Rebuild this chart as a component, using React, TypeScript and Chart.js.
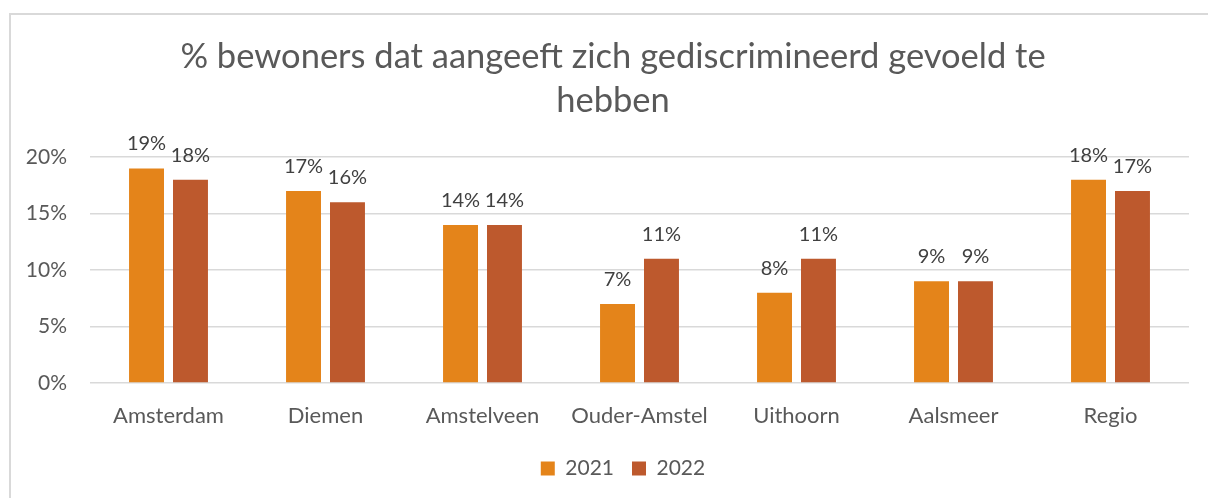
import React, { useEffect, useRef } from "react";
import { Chart, registerables } from "chart.js";

Chart.register(...registerables);

const categories = ["Amsterdam", "Diemen", "Amstelveen", "Ouder-Amstel", "Uithoorn", "Aalsmeer", "Regio"];
const series2021 = [19, 17, 14, 7, 8, 9, 18];
const series2022 = [18, 16, 14, 11, 11, 9, 17];
const seriesNames = ["2021", "2022"];
const titleLines = ["% bewoners dat aangeeft zich gediscrimineerd gevoeld te", "hebben"];
const yTicks = [0, 5, 10, 15, 20];

const FONT = "Lato, 'Open Sans', sans-serif";
const TEXT = "#595959";

const dataLabelPlugin = {
  id: "dataLabels",
  afterDatasetsDraw(chart: any) {
    const ctx = chart.ctx;
    ctx.save();
    ctx.font = `20px ${FONT}`;
    ctx.fillStyle = "#404040";
    ctx.textAlign = "center";
    ctx.textBaseline = "alphabetic";
    chart.data.datasets.forEach((ds: any, di: number) => {
      const meta = chart.getDatasetMeta(di);
      meta.data.forEach((el: any, i: number) => {
        ctx.fillText(ds.data[i] + "%", el.x, el.y - 18);
      });
    });
    ctx.restore();
  },
};

const boxShiftPlugin = {
  id: "boxShift",
  afterLayout(chart: any) {
    if (chart.legend) {
      chart.legend.left += 23;
      chart.legend.right += 23;
    }
    if (chart.titleBlock) {
      chart.titleBlock.left += 13;
      chart.titleBlock.right += 13;
    }
  },
};

export default function App() {
  const ref = useRef<HTMLCanvasElement>(null);
  useEffect(() => {
    if (!ref.current) return;
    const chart = new Chart(ref.current, {
      type: "bar",
      data: {
        labels: categories,
        datasets: [
          {
            label: seriesNames[0],
            data: series2021,
            backgroundColor: "#E4841A",
            categoryPercentage: 0.56,
            barPercentage: 0.795,
          },
          {
            label: seriesNames[1],
            data: series2022,
            backgroundColor: "#BD592D",
            categoryPercentage: 0.56,
            barPercentage: 0.795,
          },
        ],
      },
      options: {
        responsive: false,
        animation: false,
        devicePixelRatio: 1,
        layout: { padding: { left: 0, right: 19, top: 0, bottom: 9 } },
        plugins: {
          title: {
            display: true,
            text: titleLines,
            color: TEXT,
            font: { family: FONT, size: 34.5, weight: "normal", lineHeight: 1.27 },
            padding: { top: 20, bottom: 34.5 },
          },
          legend: {
            position: "bottom",
            labels: {
              color: TEXT,
              font: { family: FONT, size: 21 },
              boxWidth: 14,
              boxHeight: 14,
              padding: 18,
            },
          },
          tooltip: { enabled: false },
        },
        scales: {
          x: {
            grid: { display: false, drawTicks: false },
            border: { display: false },
            ticks: { color: TEXT, font: { family: FONT, size: 22 }, padding: 20, maxRotation: 0 },
            afterFit: (s: any) => {
              s.height = 57;
            },
          },
          y: {
            min: 0,
            max: 20,
            afterBuildTicks: (s: any) => {
              s.ticks = yTicks.map((v) => ({ value: v }));
            },
            grid: { color: "#D9D9D9", lineWidth: 1.5, drawTicks: false },
            border: { display: false },
            ticks: {
              color: TEXT,
              font: { family: FONT, size: 21 },
              padding: 23,
              callback: (v: any) => v + "%",
            },
            afterFit: (s: any) => {
              s.width = 79;
            },
          },
        },
      },
      plugins: [dataLabelPlugin, boxShiftPlugin],
    });
    return () => chart.destroy();
  }, []);

  return (
    <div
      style={{
        position: "fixed",
        left: 9,
        top: 13,
        width: 1199,
        height: 485,
        borderTop: "2px solid #D9D9D9",
        borderLeft: "2px solid #D9D9D9",
        boxSizing: "border-box",
        background: "#fff",
      }}
    >
      <canvas ref={ref} width={1197} height={483} style={{ display: "block" }} />
    </div>
  );
}
